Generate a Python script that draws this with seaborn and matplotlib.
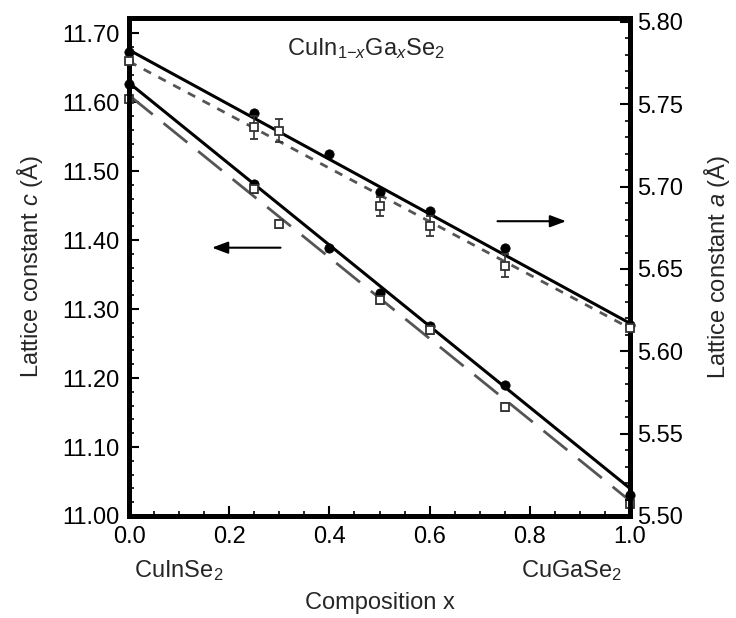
import numpy as np
import pandas as pd
import matplotlib
matplotlib.use("Agg")
import matplotlib.pyplot as plt
from matplotlib.ticker import MultipleLocator, FormatStrFormatter
import seaborn as sns

# ---- data -------------------------------------------------------------
# lattice constant a (right axis)
x_a_circ = [0.0, 0.25, 0.40, 0.50, 0.60, 0.75, 1.0]
a_circ = [5.782, 5.745, 5.720, 5.697, 5.685, 5.663, 5.616]
x_a_sq = [0.0, 0.25, 0.30, 0.50, 0.60, 0.75, 1.0]
a_sq = [5.776, 5.736, 5.734, 5.688, 5.676, 5.652, 5.614]
a_sq_err = [0.0, 0.007, 0.007, 0.006, 0.006, 0.007, 0.0]

# lattice constant c (left axis)
x_c_circ = [0.0, 0.25, 0.40, 0.50, 0.60, 0.75, 1.0]
c_circ = [11.627, 11.481, 11.388, 11.324, 11.276, 11.190, 11.030]
x_c_sq = [0.0, 0.25, 0.30, 0.50, 0.60, 0.75, 1.0]
c_sq = [11.604, 11.474, 11.423, 11.313, 11.270, 11.158, 11.018]
c_sq_err = [0.0, 0.006, 0.006, 0.006, 0.006, 0.006, 0.0]

# linear (Vegard) fits, end members
x_fit = [0.0, 1.0]
a_fit_solid = [5.783, 5.617]
a_fit_dash = [5.776, 5.614]
c_fit_solid = [11.628, 11.040]
c_fit_dash = [11.610, 11.022]

x_ticks = [0.0, 0.2, 0.4, 0.6, 0.8, 1.0]

# ---- style ------------------------------------------------------------
sns.set_theme(style="white")
plt.rcParams["font.family"] = ["Liberation Sans", "DejaVu Sans"]
plt.rcParams["mathtext.fontset"] = "custom"
plt.rcParams["mathtext.rm"] = "Liberation Sans"
plt.rcParams["mathtext.it"] = "Liberation Sans:italic"
plt.rcParams["mathtext.bf"] = "Liberation Sans:bold"

FS = 17
fig = plt.figure(figsize=(7.36, 6.18), dpi=100)
ax = fig.add_axes([129 / 736, 1 - 516 / 618, (630 - 129) / 736, (516 - 18) / 618])
ax2 = ax.twinx()

# ---- c (left axis) ----------------------------------------------------
df_c_fit = pd.DataFrame({"x": x_fit, "solid": c_fit_solid, "dash": c_fit_dash})
sns.lineplot(data=df_c_fit, x="x", y="solid", ax=ax, color="black", lw=2.2)
sns.lineplot(data=df_c_fit, x="x", y="dash", ax=ax, color="#555555", lw=2.0,
             dashes=False).lines[-1].set_dashes([11, 5])
sns.scatterplot(x=x_c_circ, y=c_circ, ax=ax, color="black", s=45, marker="o",
                edgecolor="black", zorder=5, clip_on=False)
ax.errorbar(x_c_sq, c_sq, yerr=c_sq_err, fmt="s", mfc="white", mec="#333333",
            ecolor="#333333", ms=6, mew=1.3, capsize=3, elinewidth=1.2,
            zorder=6, clip_on=False)

# ---- a (right axis) ---------------------------------------------------
df_a_fit = pd.DataFrame({"x": x_fit, "solid": a_fit_solid, "dash": a_fit_dash})
sns.lineplot(data=df_a_fit, x="x", y="solid", ax=ax2, color="black", lw=2.2)
sns.lineplot(data=df_a_fit, x="x", y="dash", ax=ax2, color="#555555", lw=2.0,
             dashes=False).lines[-1].set_dashes([3, 3])
sns.scatterplot(x=x_a_circ, y=a_circ, ax=ax2, color="black", s=45, marker="o",
                edgecolor="black", zorder=5, clip_on=False)
ax2.errorbar(x_a_sq, a_sq, yerr=a_sq_err, fmt="s", mfc="white", mec="#333333",
             ecolor="#333333", ms=6, mew=1.3, capsize=3, elinewidth=1.2,
             zorder=6, clip_on=False)

# ---- axes -------------------------------------------------------------
ax.set_xlim(0.0, 1.0)
ax.set_ylim(11.0, 11.722)
ax2.set_ylim(5.50, 5.8024)

ax.set_xticks(x_ticks)
ax.xaxis.set_minor_locator(MultipleLocator(0.05))
ax.xaxis.set_major_formatter(FormatStrFormatter("%.1f"))
ax.yaxis.set_major_locator(MultipleLocator(0.10))
ax.yaxis.set_minor_locator(MultipleLocator(0.02))
ax.yaxis.set_major_formatter(FormatStrFormatter("%.2f"))
ax2.yaxis.set_major_locator(MultipleLocator(0.05))
ax2.yaxis.set_minor_locator(MultipleLocator(0.01))
ax2.yaxis.set_major_formatter(FormatStrFormatter("%.2f"))

for a_ in (ax, ax2):
    for sp in a_.spines.values():
        sp.set_visible(True)
        sp.set_linewidth(3.5)
        sp.set_color("black")
    a_.tick_params(which="major", direction="in", length=7, width=1.5,
                   labelsize=FS, colors="black", pad=7)
    a_.tick_params(which="minor", direction="in", length=3.5, width=1.2,
                   colors="black")
ax.tick_params(axis="y", which="both", left=True, right=False)
ax.tick_params(axis="x", which="both", bottom=True, top=False)
ax2.tick_params(axis="y", which="both", right=True, left=False, pad=5)

ax.set_xlabel("Composition x", fontsize=FS, labelpad=32)
ax.set_ylabel("Lattice constant $c$ (Å)", fontsize=FS, labelpad=12)
ax2.set_ylabel("Lattice constant $a$ (Å)", fontsize=FS, labelpad=14)

# end-member names below the tick labels
ax.text(0.01, -0.11, r"CuInSe$_2$", transform=ax.transAxes, fontsize=FS,
        ha="left", va="center")
ax.text(0.985, -0.11, r"CuGaSe$_2$", transform=ax.transAxes, fontsize=FS,
        ha="right", va="center")

# compound formula
ax.text(0.315, 11.678, r"CuIn$_{1\mathrm{-}x}$Ga$_x$Se$_2$", fontsize=FS,
        ha="left", va="center")

# arrows pointing to the relevant axis
ax.annotate("", xy=(0.160, 11.389), xytext=(0.308, 11.389),
            arrowprops=dict(arrowstyle="-|>,head_length=0.8,head_width=0.3",
                            color="black", lw=1.5))
ax2.annotate("", xy=(0.878, 5.679), xytext=(0.730, 5.679),
             arrowprops=dict(arrowstyle="-|>,head_length=0.8,head_width=0.3",
                             color="black", lw=1.5))

fig.savefig("out.png", dpi=100)
